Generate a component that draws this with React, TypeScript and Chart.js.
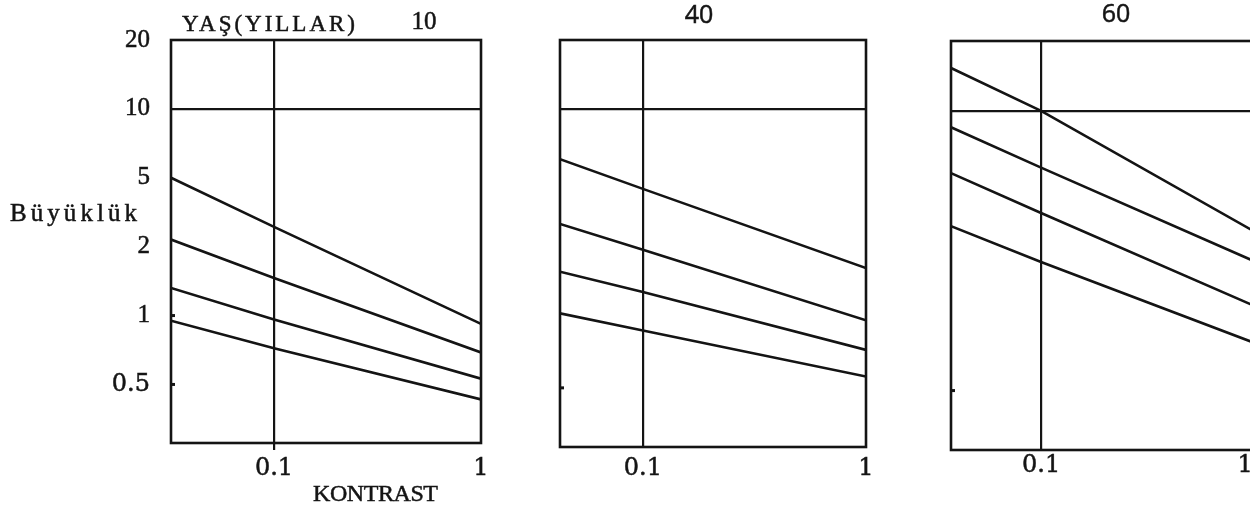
import React, { useEffect, useRef } from 'react';
import { Chart, Scale, registerables } from 'chart.js';

Chart.register(...registerables);

// ---- data -------------------------------------------------------------
const AGE_LABELS = ['10', '40', '60'];
const SIZE_TICKS = [0.5, 1, 2, 5, 10, 20];
const CONTRAST_TICKS = [0.1, 1];

// contrast at the left frame edge, at the 0.1 grid line and at the right frame edge
const CONTRAST_10 = [0.0318, 0.1, 1];
const CONTRAST_40 = [0.0425, 0.1, 1];
const CONTRAST_60 = [0.0362, 0.1, 1.08];

// one row per curve, values at the contrasts above
const SIZE_10 = [
  [5.0, 2.6, 0.92],
  [2.2, 1.46, 0.69],
  [1.32, 0.96, 0.53],
  [0.95, 0.72, 0.43],
];
const SIZE_40 = [
  [6.1, 4.4, 1.65],
  [2.77, 1.98, 0.98],
  [1.59, 1.3, 0.73],
  [1.05, 0.885, 0.56],
];
const SIZE_60 = [
  [15.3, 10, 2.62],
  [8.5, 5.7, 1.82],
  [5.4, 3.28, 1.17],
  [2.76, 1.79, 0.81],
];

// ---- size axis: the 0.5 / 1 / 2 / 5 / 10 / 20 ladder is drawn in equal steps
const SIZE_FLOOR_STEPS = 0.85;

function sizeToStep(v: number): number {
  const t = SIZE_TICKS;
  const n = t.length - 1;
  if (v <= t[1]) return Math.log(v / t[0]) / Math.log(t[1] / t[0]);
  for (let i = 1; i < n; i++) {
    if (v <= t[i + 1]) return i + Math.log(v / t[i]) / Math.log(t[i + 1] / t[i]);
  }
  return n - 1 + Math.log(v / t[n - 1]) / Math.log(t[n] / t[n - 1]);
}

function stepToSize(s: number): number {
  const t = SIZE_TICKS;
  const n = t.length - 1;
  const i = Math.min(Math.max(Math.floor(s), 0), n - 1);
  return t[i] * Math.pow(t[i + 1] / t[i], s - i);
}

class SizeStepScale extends Scale {
  static id = 'sizeStep';
  static defaults = {};
  _lo = 0;
  _hi = 1;
  determineDataLimits() {
    this.min = stepToSize(-SIZE_FLOOR_STEPS);
    this.max = SIZE_TICKS[SIZE_TICKS.length - 1];
  }
  buildTicks() {
    return SIZE_TICKS.map((value) => ({ value }));
  }
  getLabelForValue(value: number) {
    return String(value);
  }
  configure() {
    super.configure();
    this._lo = sizeToStep(this.min);
    this._hi = sizeToStep(this.max);
  }
  getPixelForValue(value: number) {
    return this.getPixelForDecimal((sizeToStep(value) - this._lo) / (this._hi - this._lo));
  }
  getValueForPixel(pixel: number) {
    return stepToSize(this._lo + this.getDecimalForPixel(pixel) * (this._hi - this._lo));
  }
}
Chart.register(SizeStepScale);

// ---- layout -----------------------------------------------------------
const INK = '#141414';
const CANVAS_W = 1260;
const CANVAS_H = 512;
const TYPE_FACE = '"Liberation Serif"';

type TextItem = {
  text: string;
  x: number;
  y: number;
  font: string;
  width?: number;
  align?: CanvasTextAlign;
  baseline?: CanvasTextBaseline;
};

type PanelDef = {
  contrast: number[];
  sizes: number[][];
  area: { left: number; right: number; top: number; bottom: number };
  showSizeLabels: boolean;
  tickLength: number;
  labelPad: number;
  innerMarks: number[];
  texts: TextItem[];
};

const PANELS: PanelDef[] = [
  {
    contrast: CONTRAST_10,
    sizes: SIZE_10,
    area: { left: 171, right: 481, top: 40, bottom: 443 },
    showSizeLabels: true,
    tickLength: 7,
    labelPad: 4,
    innerMarks: [1, 0.5],
    texts: [
      { text: 'YAŞ(YILLAR)', x: 182, y: 31, font: `23px ${TYPE_FACE}`, width: 173 },
      { text: AGE_LABELS[0], x: 424, y: 22, font: `25px ${TYPE_FACE}`, align: 'center', baseline: 'middle' },
      { text: 'Büyüklük', x: 10, y: 221, font: `25px ${TYPE_FACE}`, width: 127 },
      { text: 'KONTRAST', x: 313, y: 501, font: `24px ${TYPE_FACE}`, width: 125 },
    ],
  },
  {
    contrast: CONTRAST_40,
    sizes: SIZE_40,
    area: { left: 560, right: 866, top: 40, bottom: 447 },
    showSizeLabels: false,
    tickLength: 0,
    labelPad: 7,
    innerMarks: [0.5],
    texts: [
      { text: AGE_LABELS[1], x: 699, y: 16, font: '25px "Open Sans"', align: 'center', baseline: 'middle' },
    ],
  },
  {
    contrast: CONTRAST_60,
    sizes: SIZE_60,
    area: { left: 951, right: 1252, top: 41, bottom: 450 },
    showSizeLabels: false,
    tickLength: 0,
    labelPad: 1,
    innerMarks: [0.5],
    texts: [
      { text: AGE_LABELS[2], x: 1116, y: 15, font: '25px "Open Sans"', align: 'center', baseline: 'middle' },
    ],
  },
];

function drawSpread(ctx: CanvasRenderingContext2D, item: TextItem) {
  ctx.font = item.font;
  ctx.fillStyle = INK;
  ctx.strokeStyle = INK;
  ctx.lineWidth = 0.5;
  ctx.textAlign = item.align || 'left';
  ctx.textBaseline = item.baseline || 'alphabetic';
  (ctx as any).letterSpacing = '0px';
  if (item.width) {
    const w = ctx.measureText(item.text).width;
    const n = Array.from(item.text).length;
    const sp = n > 1 ? (item.width - w) / (n - 1) : 0;
    (ctx as any).letterSpacing = `${sp}px`;
  }
  ctx.fillText(item.text, item.x, item.y);
  ctx.strokeText(item.text, item.x, item.y);
  (ctx as any).letterSpacing = '0px';
}

function buildConfig(p: PanelDef): any {
  const framePlugin = {
    id: 'panelFrame',
    afterDatasetsDraw(chart: any) {
      const { ctx, chartArea: a, scales } = chart;
      ctx.save();
      ctx.strokeStyle = INK;
      ctx.lineWidth = 2.6;
      ctx.strokeRect(a.left, a.top, a.right - a.left, a.bottom - a.top);
      ctx.lineWidth = 3;
      for (const v of p.innerMarks) {
        const y = scales.y.getPixelForValue(v);
        ctx.beginPath();
        ctx.moveTo(a.left - 1, y);
        ctx.lineTo(a.left + 4, y);
        ctx.stroke();
      }
      ctx.restore();
    },
    afterDraw(chart: any) {
      const ctx = chart.ctx;
      ctx.save();
      for (const t of p.texts) drawSpread(ctx, t);
      ctx.restore();
    },
  };

  const datasets = p.sizes.map((row, i) => ({
    label: `curve ${i + 1}`,
    data: row.map((y, j) => ({ x: p.contrast[j], y })),
    borderColor: INK,
    borderWidth: 2.6,
    pointRadius: 0,
    tension: 0,
    fill: false,
  }));

  const a = p.area;
  return {
    type: 'line',
    data: { datasets },
    plugins: [framePlugin],
    options: {
      responsive: false,
      animation: false,
      events: [],
      layout: { padding: { left: 0, top: a.top, right: CANVAS_W - a.right, bottom: 0 } },
      plugins: { legend: { display: false }, tooltip: { enabled: false }, title: { display: false } },
      scales: {
        x: {
          type: 'logarithmic',
          min: p.contrast[0],
          max: p.contrast[p.contrast.length - 1],
          afterBuildTicks: (axis: any) => {
            axis.ticks = CONTRAST_TICKS.map((value) => ({ value }));
          },
          afterFit: (axis: any) => {
            axis.height = CANVAS_H - a.bottom;
          },
          border: { display: false },
          grid: {
            color: (c: any) => (c.tick && c.tick.value === 0.1 ? INK : 'rgba(0,0,0,0)'),
            lineWidth: 2.2,
            drawTicks: p.tickLength > 0,
            tickLength: p.tickLength,
          },
          ticks: {
            autoSkip: false,
            maxRotation: 0,
            padding: p.labelPad,
            color: INK,
            textStrokeColor: INK,
            textStrokeWidth: 0.5,
            font: { family: '"DejaVu Serif"', size: 24 },
            callback: (v: number) => String(v),
          },
        },
        y: {
          type: 'sizeStep',
          position: 'left',
          afterFit: (axis: any) => {
            axis.width = a.left;
          },
          border: { display: false },
          grid: {
            color: (c: any) => (c.tick && c.tick.value === 10 ? INK : 'rgba(0,0,0,0)'),
            lineWidth: 2.2,
            drawTicks: false,
          },
          ticks: {
            display: p.showSizeLabels,
            padding: 21,
            color: INK,
            textStrokeColor: INK,
            textStrokeWidth: 0.5,
            font: (c: any) =>
              c.tick && c.tick.value === 0.5
                ? { family: '"DejaVu Serif"', size: 24 }
                : { family: '"Liberation Serif"', size: 25 },
            callback: (v: number) => String(v),
          },
        },
      },
    },
  };
}

function Panel({ def }: { def: PanelDef }) {
  const ref = useRef<HTMLCanvasElement>(null);
  useEffect(() => {
    if (!ref.current) return;
    const chart = new Chart(ref.current, buildConfig(def));
    return () => chart.destroy();
  }, [def]);
  return (
    <canvas
      ref={ref}
      width={CANVAS_W}
      height={CANVAS_H}
      style={{ position: 'absolute', left: 0, top: 0, width: CANVAS_W, height: CANVAS_H }}
    />
  );
}

export default function App() {
  return (
    <div
      style={{
        position: 'fixed',
        left: 0,
        top: 0,
        width: 1250,
        height: 512,
        overflow: 'hidden',
        background: '#ffffff',
      }}
    >
      {PANELS.map((p, i) => (
        <Panel key={i} def={p} />
      ))}
    </div>
  );
}
